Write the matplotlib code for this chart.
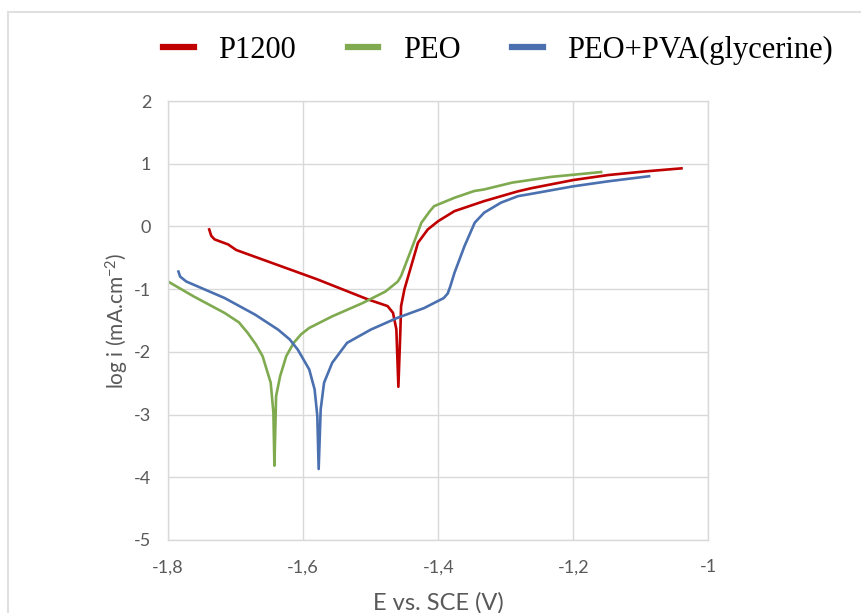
import matplotlib
matplotlib.use("Agg")
import matplotlib.pyplot as plt
from matplotlib.ticker import FuncFormatter, MultipleLocator
from matplotlib.patches import Rectangle
from matplotlib.lines import Line2D

# Tafel curves (E in V vs SCE, log i in mA/cm2)
p1200_E = [-1.739, -1.736, -1.731, -1.711, -1.699, -1.580, -1.504, -1.475, -1.467, -1.462,
           -1.459, -1.456, -1.455, -1.450, -1.440, -1.430, -1.4155, -1.400, -1.376,
           -1.332, -1.282, -1.262, -1.200, -1.148, -1.091, -1.040]
p1200_i = [-0.048, -0.150, -0.207, -0.287, -0.376, -0.840, -1.164, -1.270, -1.377, -1.640,
           -2.557, -1.640, -1.270, -1.000, -0.630, -0.260, -0.048, 0.085, 0.244,
           0.404, 0.560, 0.610, 0.740, 0.820, 0.880, 0.926]

peo_E = [-1.800, -1.762, -1.716, -1.695, -1.682, -1.670, -1.660, -1.648, -1.644, -1.6425,
         -1.640, -1.634, -1.625, -1.614, -1.603, -1.591, -1.557, -1.512, -1.478, -1.460,
         -1.455, -1.440, -1.425, -1.412, -1.406, -1.376, -1.347, -1.332, -1.290, -1.282,
         -1.233, -1.159]
peo_i = [-0.878, -1.116, -1.381, -1.530, -1.698, -1.880, -2.069, -2.492, -2.968, -3.815,
         -2.704, -2.386, -2.069, -1.857, -1.720, -1.619, -1.434, -1.222, -1.037, -0.880,
         -0.790, -0.370, 0.058, 0.250, 0.324, 0.457, 0.564, 0.590, 0.700, 0.712,
         0.790, 0.867]

pva_E = [-1.7846, -1.782, -1.773, -1.716, -1.671, -1.637, -1.620, -1.608, -1.591, -1.583,
         -1.579, -1.577, -1.574, -1.569, -1.557, -1.535, -1.500, -1.461, -1.421,
         -1.392, -1.386, -1.382, -1.376, -1.361, -1.346, -1.332, -1.307, -1.282, -1.262,
         -1.200, -1.148, -1.088]
pva_i = [-0.720, -0.800, -0.878, -1.143, -1.407, -1.646, -1.800, -1.963, -2.280, -2.598,
         -3.021, -3.868, -2.915, -2.492, -2.175, -1.857, -1.646, -1.460, -1.302,
         -1.143, -1.070, -0.950, -0.740, -0.310, 0.060, 0.220, 0.380, 0.483, 0.520,
         0.640, 0.720, 0.800]

labels = ["P1200", "PEO", "PEO+PVA(glycerine)"]
colors = ["#C00000", "#7FAA4F", "#4A70B0"]

plt.rcParams["font.family"] = ["Lato", "DejaVu Sans"]
plt.rcParams["mathtext.fontset"] = "custom"
plt.rcParams["mathtext.rm"] = "Lato"
plt.rcParams["mathtext.it"] = "Lato:italic"

fig = plt.figure(figsize=(8.62, 6.13), dpi=100)
W, H = 862, 613
ax = fig.add_axes([168 / W, 1 - 540 / H, (708.5 - 168) / W, (540 - 101) / H])

# chart frame
fig.patches.append(Rectangle((8 / W, -0.1), 1.2, 1 - 12 / H + 0.1, transform=fig.transFigure,
                             fill=False, edgecolor="#E0E0E0", linewidth=1.5))

for E, i, c in zip([p1200_E, peo_E, pva_E], [p1200_i, peo_i, pva_i], colors):
    ax.plot(E, i, color=c, linewidth=1.9, solid_joinstyle="round")

ax.set_xlim(-1.8, -1.0)
ax.set_ylim(-5, 2)
ax.xaxis.set_major_locator(MultipleLocator(0.2))
ax.yaxis.set_major_locator(MultipleLocator(1))

def comma_fmt(v, pos):
    s = ("%.1f" % v).rstrip("0").rstrip(".")
    return s.replace(".", ",")

ax.xaxis.set_major_formatter(FuncFormatter(comma_fmt))
ax.yaxis.set_major_formatter(FuncFormatter(lambda v, p: "%d" % round(v)))

ax.grid(True, color="#D9D9D9", linewidth=1.0)
ax.set_axisbelow(True)
for s in ax.spines.values():
    s.set_color("#D9D9D9")
    s.set_linewidth(1.0)
ax.tick_params(length=0, labelsize=13, colors="#595959", pad=14)
ax.tick_params(axis="y", pad=12)

ax.set_xlabel("E vs. SCE (V)", fontsize=17, color="#595959", labelpad=12)
ax.set_ylabel(r"log i (mA.cm$^{-2}$)", fontsize=15, color="#595959", labelpad=2)

handles = [Line2D([], [], color=c, linewidth=4.5) for c in colors]
fig.legend(handles, labels, loc="center", bbox_to_anchor=(0.578, 0.918), ncol=3,
           frameon=False, prop={"family": "Liberation Serif", "size": 22},
           handlelength=1.0, handletextpad=0.8, columnspacing=1.7)

fig.savefig("out.png", dpi=100)
